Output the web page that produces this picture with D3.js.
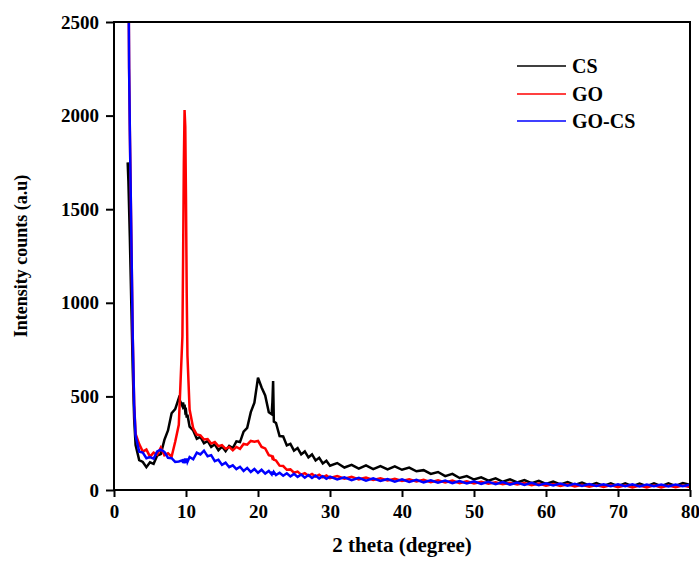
<!DOCTYPE html>
<html>
<head>
<meta charset="utf-8">
<script src="https://cdn.jsdelivr.net/npm/d3@7"></script>
<style>
  body { margin: 0; background: #fff; }
  svg { font-family: "Liberation Serif", "Times New Roman", serif; font-weight: bold; }
</style>
</head>
<body>
<div id="chart"></div>
<script>
// 2 theta sampling grid (degrees), shared by the three patterns
const theta = [1.9, 2.0, 2.1, 2.2, 2.4, 2.6, 2.8,
  3.0, 3.5, 4.0, 4.5, 5.0, 5.5, 6.0, 6.5, 7.0, 7.5, 8.0, 8.5, 9.0, 9.5,
  9.6, 9.7, 9.8, 9.9, 10.0, 10.1, 10.2,
  10.5, 11.0, 11.5, 12.0, 12.5, 13.0, 13.5, 14.0, 14.5, 15.0, 15.5, 16.0, 16.5,
  17.0, 17.5, 18.0, 18.5, 19.0, 19.5, 20.0, 20.5, 21.0, 21.5,
  21.9, 22.0, 22.1, 22.2,
  22.5, 23.0, 23.5, 24.0, 24.5, 25.0, 25.5, 26.0, 26.5, 27.0, 27.5, 28.0, 28.5, 29.0, 29.5, 30.0,
  31, 32, 33, 34, 35, 36, 37, 38, 39, 40, 41, 42, 43, 44, 45, 46, 47, 48, 49, 50,
  51, 52, 53, 54, 55, 56, 57, 58, 59, 60, 61, 62, 63, 64, 65, 66, 67, 68, 69, 70,
  71, 72, 73, 74, 75, 76, 77, 78, 79, 80];

// CS
const csCounts = [1750, 1650, 1500, 1350, 1000, 650, 380,
  240, 160, 150, 122, 148, 140, 184, 192, 268, 318, 410, 432, 490, 448,
  468, 432, 456, 418, 424, 386, 402,
  338, 318, 274, 284, 250, 262, 230, 244, 212, 232, 208, 236, 224,
  260, 256, 312, 332, 416, 466, 600, 548, 505, 415,
  405, 470, 582, 366,
  358, 288, 286, 238, 246, 210, 224, 190, 206, 174, 190, 158, 172, 142, 156, 130,
  144, 120, 134, 114, 132, 112, 128, 110, 126, 108, 120, 100, 106, 86, 96, 74, 86, 64, 74, 56,
  68, 50, 62, 44, 57, 40, 53, 36, 49, 32, 45, 30, 42, 27, 40, 25, 37, 22, 35, 21,
  35, 20, 34, 21, 35, 21, 36, 22, 37, 28];

// GO
const goCounts = [null, 2900, 2250, 1920, 1370, 820, 460,
  300, 245, 205, 216, 178, 200, 188, 226, 186, 196, 178, 258, 348, 820,
  1250, 1750, 2030, 1940, 1550, 1050, 720,
  430, 330, 296, 292, 270, 272, 248, 256, 234, 240, 220, 230, 212,
  230, 220, 246, 242, 262, 258, 262, 230, 222, 186,
  182, 170, 174, 162,
  158, 130, 128, 108, 110, 92, 98, 82, 90, 76, 86, 72, 82, 68, 78, 64,
  74, 60, 70, 57, 66, 54, 63, 51, 60, 48, 57, 46, 55, 42, 52, 40, 50, 37, 47, 35,
  44, 33, 41, 31, 39, 29, 37, 26, 35, 23, 32, 21, 30, 19, 28, 18, 27, 16, 26, 15,
  25, 14, 24, 14, 25, 14, 24, 15, 24, 16];

// GO-CS
const gocsCounts = [null, 2900, 2250, 1920, 1370, 820, 450,
  290, 205, 200, 170, 176, 168, 206, 216, 204, 172, 170, 150, 152, 158,
  144, 166, 142, 168, 146, 168, 150,
  176, 164, 200, 190, 210, 180, 186, 154, 162, 134, 146, 122, 132,
  112, 124, 102, 118, 96, 112, 92, 108, 88, 102,
  84, 98, 82, 96,
  80, 92, 76, 89, 72, 86, 70, 83, 66, 80, 64, 77, 62, 74, 60, 71,
  56, 68, 53, 65, 50, 62, 48, 59, 45, 57, 43, 55, 41, 52, 39, 50, 37, 48, 35, 46,
  33, 44, 31, 42, 29, 40, 27, 38, 26, 36, 24, 34, 23, 33, 22, 32, 21, 31, 20, 30,
  20, 30, 19, 29, 20, 29, 19, 29, 20, 28];

const seriesNames = ['CS', 'GO', 'GO-CS'];
const seriesColors = ['#000000', '#ff0000', '#0000ff'];
const xTicks = [0, 10, 20, 30, 40, 50, 60, 70, 80];
const yTicks = [0, 500, 1000, 1500, 2000, 2500];

const width = 699, height = 562;
const margin = { top: 22, right: 9, bottom: 72, left: 114 };
const iw = width - margin.left - margin.right;
const ih = height - margin.top - margin.bottom;

const svg = d3.select('#chart').append('svg')
  .attr('width', width)
  .attr('height', height);

const x = d3.scaleLinear().domain([0, 80]).range([0, iw]);
const y = d3.scaleLinear().domain([0, 2500]).range([ih, 0]);

const g = svg.append('g').attr('transform', `translate(${margin.left},${margin.top})`);

g.append('clipPath').attr('id', 'plotclip')
  .append('rect').attr('width', iw).attr('height', ih);

// curves, GO-CS on top
const allCounts = [csCounts, goCounts, gocsCounts];
const line = d3.line()
  .defined(d => d[1] !== null)
  .x(d => x(d[0]))
  .y(d => y(d[1]));

allCounts.forEach((counts, i) => {
  const pts = theta.map((t, k) => [t, counts[k]]);
  g.append('path')
    .datum(pts)
    .attr('clip-path', 'url(#plotclip)')
    .attr('fill', 'none')
    .attr('stroke', seriesColors[i])
    .attr('stroke-width', 2.5)
    .attr('stroke-linejoin', 'miter')
    .attr('d', line);
});

// frame
g.append('rect')
  .attr('width', iw).attr('height', ih)
  .attr('fill', 'none').attr('stroke', '#000').attr('stroke-width', 2);

// axes
const xAxis = g.append('g')
  .attr('transform', `translate(0,${ih})`)
  .call(d3.axisBottom(x).tickValues(xTicks).tickSize(7).tickPadding(8).tickFormat(d3.format('d')));
const yAxis = g.append('g')
  .call(d3.axisLeft(y).tickValues(yTicks).tickSize(8).tickPadding(7).tickFormat(d3.format('d')));

[xAxis, yAxis].forEach(a => {
  a.select('.domain').remove();
  a.selectAll('line').attr('stroke', '#000').attr('stroke-width', 2);
  a.selectAll('text')
    .attr('fill', '#000')
    .style('font-family', '"Liberation Serif", serif')
    .style('font-weight', 'bold')
    .style('font-size', '19px');
});

// axis titles
svg.append('text')
  .attr('x', margin.left + iw / 2)
  .attr('y', 552)
  .attr('text-anchor', 'middle')
  .style('font-size', '21px')
  .text('2 theta (degree)');

svg.append('text')
  .attr('transform', `translate(27,${margin.top + ih / 2}) rotate(-90)`)
  .attr('text-anchor', 'middle')
  .style('font-size', '18px')
  .text('Intensity counts (a.u)');

// legend
const legend = svg.append('g').attr('transform', 'translate(517,66)');
seriesNames.forEach((name, i) => {
  const row = legend.append('g').attr('transform', `translate(0,${Math.round(i * 27.5)})`);
  row.append('line')
    .attr('x1', 0).attr('x2', 49)
    .attr('stroke', seriesColors[i]).attr('stroke-width', 1.5);
  row.append('text')
    .attr('x', 55).attr('y', 7)
    .style('font-size', '20px')
    .text(name);
});
</script>
</body>
</html>
